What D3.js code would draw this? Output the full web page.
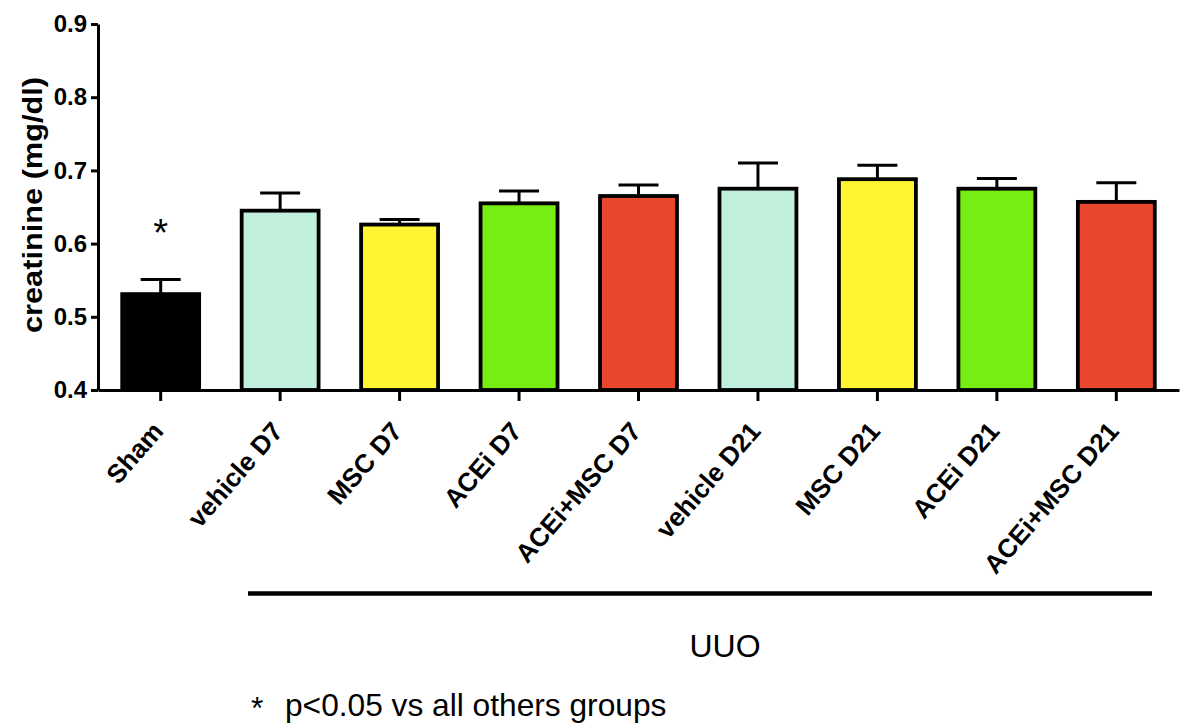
<!DOCTYPE html>
<html>
<head>
<meta charset="utf-8">
<script src="https://cdn.jsdelivr.net/npm/d3@7"></script>
<style>
  html, body { margin: 0; padding: 0; background: #fff; }
  svg { display: block; }
  text { font-family: "Liberation Sans", Arial, Helvetica, sans-serif; fill: #000; }
</style>
</head>
<body>
<svg id="chart" width="1180" height="725"></svg>
<script>
const categories = ["Sham", "vehicle D7", "MSC D7", "ACEi D7", "ACEi+MSC D7",
                    "vehicle D21", "MSC D21", "ACEi D21", "ACEi+MSC D21"];
const means = [0.531, 0.645, 0.626, 0.655, 0.665, 0.675, 0.688, 0.675, 0.657];
const sems  = [0.020, 0.024, 0.007, 0.017, 0.015, 0.035, 0.019, 0.014, 0.026];
const colors = ["#000000", "#c0f0dc", "#fff532", "#76ee14", "#e8462d",
                "#c0f0dc", "#fff532", "#76ee14", "#e8462d"];
const yTicks = [0.4, 0.5, 0.6, 0.7, 0.8, 0.9];
const yTitle = "creatinine (mg/dl)";
const groupLabel = "UUO";
const footnote = "p<0.05 vs all others groups";
const sigMark = "*";

const svg = d3.select("#chart");
const x = d3.scaleBand().domain(categories).range([98, 1179])
  .paddingInner(0.356).paddingOuter(0.2027);
const y = d3.scaleLinear().domain([0.4, 0.9]).range([390, 24]);

const data = categories.map((c, i) => ({ c, m: means[i], e: sems[i], col: colors[i] }));

// bars
svg.append("g").selectAll("rect").data(data).join("rect")
  .attr("x", d => x(d.c)).attr("width", x.bandwidth())
  .attr("y", d => y(d.m)).attr("height", d => y(0.4) - y(d.m))
  .attr("fill", d => d.col).attr("stroke", "#000").attr("stroke-width", 3.8);

// error bars
const eb = svg.append("g").attr("stroke", "#000").attr("stroke-width", 3);
eb.selectAll("line.v").data(data).join("line").attr("class", "v")
  .attr("x1", d => x(d.c) + x.bandwidth() / 2).attr("x2", d => x(d.c) + x.bandwidth() / 2)
  .attr("y1", d => y(d.m)).attr("y2", d => y(d.m + d.e));
eb.selectAll("line.c").data(data).join("line").attr("class", "c")
  .attr("x1", d => x(d.c) + x.bandwidth() / 2 - 20).attr("x2", d => x(d.c) + x.bandwidth() / 2 + 20)
  .attr("y1", d => y(d.m + d.e)).attr("y2", d => y(d.m + d.e));

// y axis
const ya = svg.append("g").attr("transform", "translate(98,0)")
  .call(d3.axisLeft(y).tickValues(yTicks).tickFormat(d3.format(".1f")).tickSizeInner(7).tickSizeOuter(0).tickPadding(4));
ya.select(".domain").attr("stroke-width", 3);
ya.selectAll(".tick line").attr("stroke-width", 3);
ya.selectAll(".tick text").style("font-size", "24px").style("font-weight", "bold")
  .style("font-family", "'Liberation Sans', Arial, sans-serif").attr("fill", "#000");

// x axis
const xa = svg.append("g").attr("transform", "translate(0,390)")
  .call(d3.axisBottom(x).tickSizeInner(11).tickSizeOuter(0).tickFormat(""));
xa.select(".domain").attr("stroke-width", 3);
xa.selectAll(".tick line").attr("stroke-width", 3);

// x labels
svg.append("g").selectAll("text").data(categories).join("text")
  .attr("transform", d => `translate(${x(d) + x.bandwidth() / 2 + 4},432) rotate(-49)`)
  .attr("text-anchor", "end")
  .style("font-size", "26px").style("font-weight", "bold")
  .text(d => d);

// y title
svg.append("text")
  .attr("transform", "translate(42,205) rotate(-90)")
  .attr("text-anchor", "middle")
  .attr("textLength", 256).attr("lengthAdjust", "spacingAndGlyphs")
  .style("font-size", "28px").style("font-weight", "bold")
  .text(yTitle);

// significance mark over Sham
svg.append("text")
  .attr("x", x(categories[0]) + x.bandwidth() / 2).attr("y", 246)
  .attr("text-anchor", "middle")
  .style("font-size", "38px")
  .text(sigMark);

// UUO bracket
svg.append("line").attr("x1", 248).attr("x2", 1152).attr("y1", 593.5).attr("y2", 593.5)
  .attr("stroke", "#000").attr("stroke-width", 4.5);
svg.append("text").attr("x", 725).attr("y", 656.5).attr("text-anchor", "middle")
  .style("font-size", "32px").text(groupLabel);

// footnote
const fn = svg.append("text").attr("x", 251).attr("y", 716).style("font-size", "31.7px");
fn.append("tspan").attr("dy", 3).text(sigMark);
fn.append("tspan").attr("dy", -3).attr("x", 285).text(footnote);
</script>
</body>
</html>
